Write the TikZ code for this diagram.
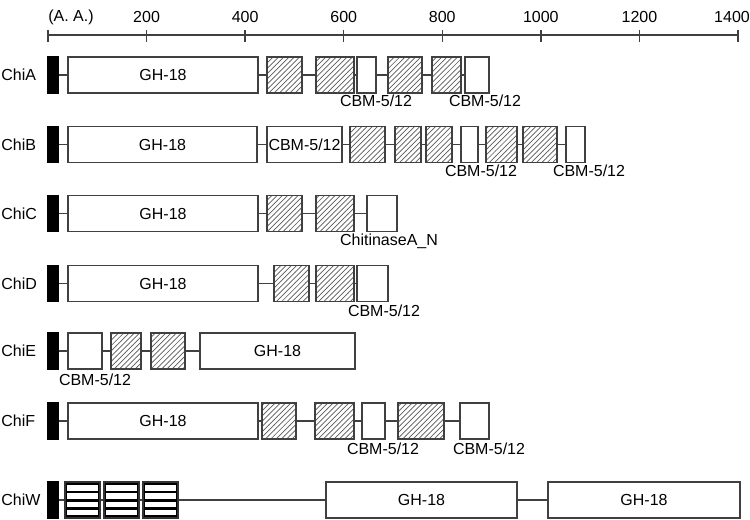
\documentclass[tikz,border=0pt]{standalone}
\usepackage{fontspec}
\setmainfont{Liberation Sans}
\usetikzlibrary{fit, patterns}
\tikzset{
  dom/.style={rectangle,draw=black!75,line width=0.75pt,fill=white,inner sep=0pt},
  hatch/.style={dom,pattern=north east lines,pattern color=black!65},
  sig/.style={dom,draw=black,fill=black},
  wdr/.style={dom,draw=black!80,fill=black,path picture={
      \foreach \k in {0,1,2,3}
        \fill[white] ([xshift=0.9pt,yshift={-1.7pt-\k*4.7pt}]path picture bounding box.north west)
          rectangle ([xshift=-0.9pt,yshift={-4.9pt-\k*4.7pt}]path picture bounding box.north east);}},
  lab/.style={inner sep=0pt},
  link/.style={draw=black!75,line width=0.75pt}
}

\begin{document}
\begin{tikzpicture}[x=0.02cm,y=-0.02cm,font=\fontsize{9.1}{10}\selectfont,
  every label/.style={inner sep=0pt}]
\useasboundingbox (0,0) rectangle (750,520);

% scale bar
\draw[link] (48,35) -- (738,35);
\draw[link] (48,30) -- (48,42);
\node[lab, anchor=west] (aa) at (48,17) {(A. A.)};
\foreach \n [count=\i] in {200,400,...,1200} {
  \draw[link] ({48+\i*98.57},30) -- ({48+\i*98.57},42);
  \node[lab] (s\n) at ({48+\i*98.57},17) {\n};
}
\draw[link] (738,30) -- (738,42);
\node[lab] (s1400) at (732,17) {1400};

% ChiA
\begin{scope}[shift={(0,75)}]
\node[lab, anchor=west] (ta) at (1,0) {ChiA};
\node[sig, fit={(48,-18) (58,18)}] (a0) {};
\node[dom, fit={(68,-18) (258,18)}, label=center:GH-18] (a1) {};
\node[hatch, fit={(267,-18) (302,18)}] (a2) {};
\node[hatch, fit={(316,-18) (354,18)}] (a3) {};
\node[dom, fit={(357,-18) (376,18)}] (a4) {};
\node[hatch, fit={(388,-18) (422,18)}] (a5) {};
\node[hatch, fit={(432,-18) (461,18)}] (a6) {};
\node[dom, fit={(465,-18) (489,18)}] (a7) {};
\node[lab] (la4) at (376,26) {CBM-5/12};
\node[lab] (la7) at (485,26) {CBM-5/12};
\draw[link] (a0) -- (a1) -- (a2) -- (a3) -- (a4) -- (a5) -- (a6) -- (a7);
\end{scope}

% ChiB
\begin{scope}[shift={(0,144.5)}]
\node[lab, anchor=west] (tb) at (1,0) {ChiB};
\node[sig, fit={(48,-18) (58,18)}] (b0) {};
\node[dom, fit={(68,-18) (257,18)}, label=center:GH-18] (b1) {};
\node[dom, fit={(267,-18) (342,18)}, label=center:CBM-5/12] (b2) {};
\node[hatch, fit={(350,-18) (385,18)}] (b3) {};
\node[hatch, fit={(395,-18) (421,18)}] (b4) {};
\node[hatch, fit={(426,-18) (452,18)}] (b5) {};
\node[dom, fit={(461,-18) (478,18)}] (b6) {};
\node[hatch, fit={(486,-18) (517,18)}] (b7) {};
\node[hatch, fit={(523,-18) (557,18)}] (b8) {};
\node[dom, fit={(566,-18) (585,18)}] (b9) {};
\node[lab] (lb6) at (481,26.5) {CBM-5/12};
\node[lab] (lb9) at (589,26.5) {CBM-5/12};
\draw[link] (b0) -- (b1) -- (b2) -- (b3) -- (b4) -- (b5) -- (b6) -- (b7) -- (b8) -- (b9);
\end{scope}

% ChiC
\begin{scope}[shift={(0,213.5)}]
\node[lab, anchor=west] (tc) at (1,0) {ChiC};
\node[sig, fit={(48,-18) (58,18)}] (c0) {};
\node[dom, fit={(68,-18) (258,18)}, label=center:GH-18] (c1) {};
\node[hatch, fit={(267,-18) (302,18)}] (c2) {};
\node[hatch, fit={(316,-18) (354,18)}] (c3) {};
\node[dom, fit={(367,-18) (397,18)}] (c4) {};
\node[lab] (lc4) at (389,27.5) {ChitinaseA\_N};
\draw[link] (c0) -- (c1) -- (c2) -- (c3) -- (c4);
\end{scope}

% ChiD
\begin{scope}[shift={(0,283.5)}]
\node[lab, anchor=west] (td) at (1,0) {ChiD};
\node[sig, fit={(48,-18) (58,18)}] (d0) {};
\node[dom, fit={(68,-18) (258,18)}, label=center:GH-18] (d1) {};
\node[hatch, fit={(274,-18) (309,18)}] (d2) {};
\node[hatch, fit={(316,-18) (354,18)}] (d3) {};
\node[dom, fit={(357,-18) (388,18)}] (d4) {};
\node[lab] (ld4) at (384,27.5) {CBM-5/12};
\draw[link] (d0) -- (d1) -- (d2) -- (d3) -- (d4);
\end{scope}

% ChiE
\begin{scope}[shift={(0,351)}]
\node[lab, anchor=west] (te) at (1,0) {ChiE};
\node[sig, fit={(48,-18) (58,18)}] (e0) {};
\node[dom, fit={(68,-18) (102,18)}] (e1) {};
\node[hatch, fit={(111,-18) (141,18)}] (e2) {};
\node[hatch, fit={(151,-18) (185,18)}] (e3) {};
\node[dom, fit={(200,-18) (355,18)}, label=center:GH-18] (e4) {};
\node[lab] (le1) at (95,29) {CBM-5/12};
\draw[link] (e0) -- (e1) -- (e2) -- (e3) -- (e4);
\end{scope}

% ChiF
\begin{scope}[shift={(0,421)}]
\node[lab, anchor=west] (tf) at (1,0) {ChiF};
\node[sig, fit={(48,-18) (58,18)}] (f0) {};
\node[dom, fit={(68,-18) (258,18)}, label=center:GH-18] (f1) {};
\node[hatch, fit={(262,-18) (296,18)}] (f2) {};
\node[hatch, fit={(315,-18) (354,18)}] (f3) {};
\node[dom, fit={(362,-18) (385,18)}] (f4) {};
\node[hatch, fit={(398,-18) (444,18)}] (f5) {};
\node[dom, fit={(460,-18) (489,18)}] (f6) {};
\node[lab] (lf4) at (383,28) {CBM-5/12};
\node[lab] (lf6) at (489,28) {CBM-5/12};
\draw[link] (f0) -- (f1) -- (f2) -- (f3) -- (f4) -- (f5) -- (f6);
\end{scope}

% ChiW
\begin{scope}[shift={(0,500)}]
\node[lab, anchor=west] (tw) at (1,0) {ChiW};
\node[sig, fit={(48,-18) (58,18)}] (w0) {};
\node[wdr, fit={(65,-18) (100,18)}] (w1) {};
\node[wdr, fit={(104,-18) (139,18)}] (w2) {};
\node[wdr, fit={(143,-18) (178,18)}] (w3) {};
\node[dom, fit={(326,-18) (517,18)}, label=center:GH-18] (w4) {};
\node[dom, fit={(548,-18) (740,18)}, label=center:GH-18] (w5) {};
\draw[link] (w0) -- (w1) -- (w2) -- (w3) -- (w4) -- (w5);
\end{scope}
\end{tikzpicture}
\end{document}
